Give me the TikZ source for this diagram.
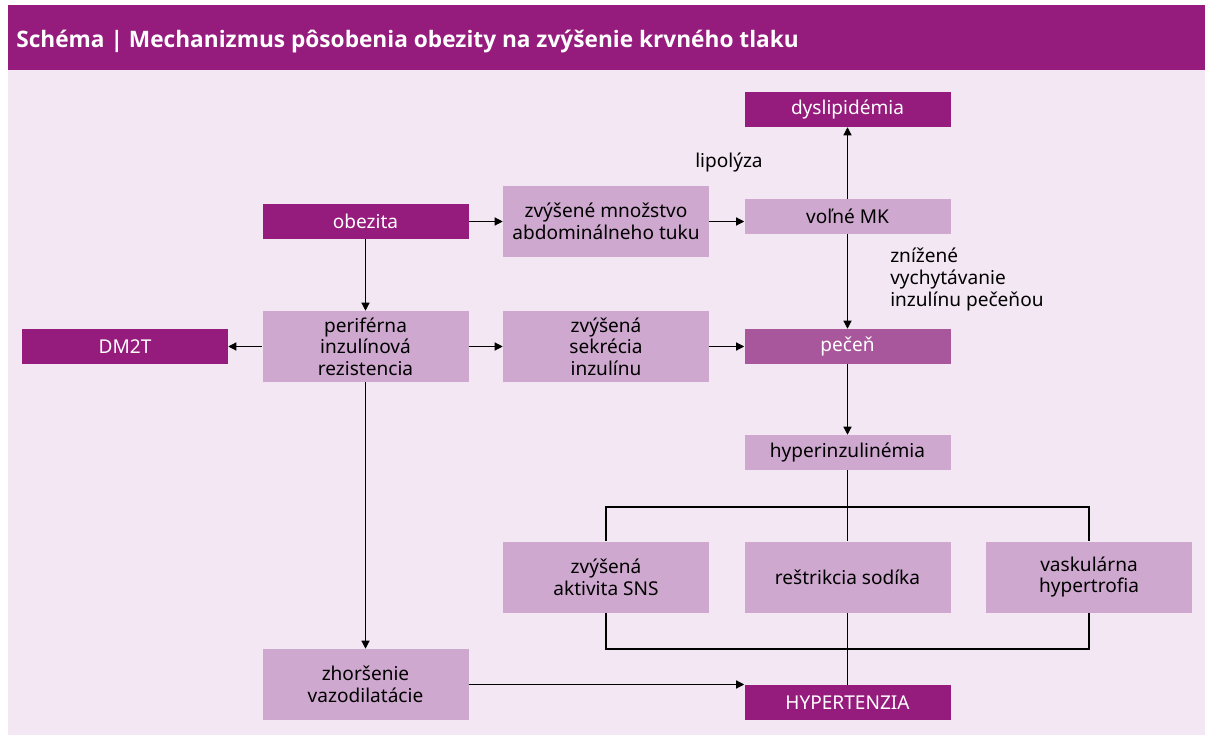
\documentclass[tikz,border=0pt]{standalone}
\usepackage{fontspec}
\setmainfont{Noto Sans}
\newfontfamily\nadpisfont{Open Sans}
\usetikzlibrary{arrows.meta, positioning}

\definecolor{fialova}{HTML}{951B7D}
\definecolor{svetla}{HTML}{CFA8CF}
\definecolor{stredna}{HTML}{A8579C}
\definecolor{pozadie}{HTML}{F3E7F4}

\begin{document}
\begin{tikzpicture}[x=0.75pt, y=-0.75pt,
	every node/.style={font=\fontsize{14.3}{16.2}\selectfont, align=center, inner sep=0pt},
	tmavy/.style={fill=fialova, text=white, minimum width=154.5pt, minimum height=26.25pt},
	bledy/.style={fill=svetla, text=black, minimum width=154.5pt, minimum height=26.25pt},
	vysoky/.style={bledy, minimum height=53.25pt},
	sipka/.style={line width=0.9pt, -{Triangle[length=6pt, width=6pt]}},
	ciara/.style={line width=0.9pt}]
	\useasboundingbox (0,0) rectangle (1217,737);
	\fill[pozadie]	(8,70) rectangle (1205,735);
	\fill[fialova]	(8,5) rectangle (1205,70);
	\node[anchor=west, text=white, font=\nadpisfont\fontsize{17}{20}\selectfont\bfseries] (nadpis) at (16,42)
		{Schéma | Mechanizmus pôsobenia obezity na zvýšenie krvného tlaku};

	\node[tmavy]	(dys)	at (847.5,109.5)	{dyslipidémia};
	\node[bledy]	(mk)	at (847.5,216.5)	{voľné MK};
	\node[tmavy]	(obez)	at (365.5,221.5)	{obezita};
	\node[vysoky]	(tuk)	at (606,221.5)		{zvýšené množstvo\\abdominálneho tuku};
	\node[tmavy]	(dm)	at (125,346.5)		{DM2T};
	\node[vysoky]	(per)	at (365.5,346.5)	{periférna\\inzulínová\\rezistencia};
	\node[vysoky]	(sekr)	at (606,346.5)		{zvýšená\\sekrécia\\inzulínu};
	\node[bledy, fill=stredna, text=white] (pecen) at (847.5,346.5) {pečeň};
	\node[bledy]	(hinz)	at (847.5,452.5)	{hyperinzulinémia};
	\node[vysoky]	(sns)	at (606,577)		{zvýšená\\aktivita SNS};
	\node[vysoky]	(sod)	at (847.5,577)		{reštrikcia sodíka};
	\node[vysoky]	(vask)	at (1089,577)		{vaskulárna\\hypertrofia};
	\node[vysoky]	(vazo)	at (365.5,684.5)	{zhoršenie\\vazodilatácie};
	\node[tmavy]	(hyp)	at (847.5,702.5)	{HYPERTENZIA};

	\node[anchor=west]	(lipo)	at (695,162)	{lipolýza};
	\node[anchor=north west, align=left] (vych) at (890,248)
		{znížené\\vychytávanie\\inzulínu pečeňou};

	\coordinate (hore) at (847.5,507);
	\coordinate (dole) at (847.5,649);

	\draw[sipka]	(obez) -- (tuk);
	\draw[sipka]	(tuk.east) -- (tuk.east -| mk.west);
	\draw[sipka]	(mk) -- (dys);
	\draw[sipka]	(mk) -- (pecen);
	\draw[sipka]	(obez) -- (per);
	\draw[sipka]	(per) -- (dm);
	\draw[sipka]	(per) -- (sekr);
	\draw[sipka]	(sekr) -- (pecen);
	\draw[sipka]	(pecen) -- (hinz);
	\draw[sipka]	(per) -- (vazo);
	\draw[sipka]	(vazo.east) -- (vazo.east -| hyp.west);

	\draw[ciara]	(hinz) -- (sod);
	\draw[ciara]	(sns.north) -- (sns.north |- hore) -| (vask.north);
	\draw[ciara]	(sod) -- (hyp);
	\draw[ciara]	(sns.south) -- (sns.south |- dole) -| (vask.south);
\end{tikzpicture}
\end{document}
